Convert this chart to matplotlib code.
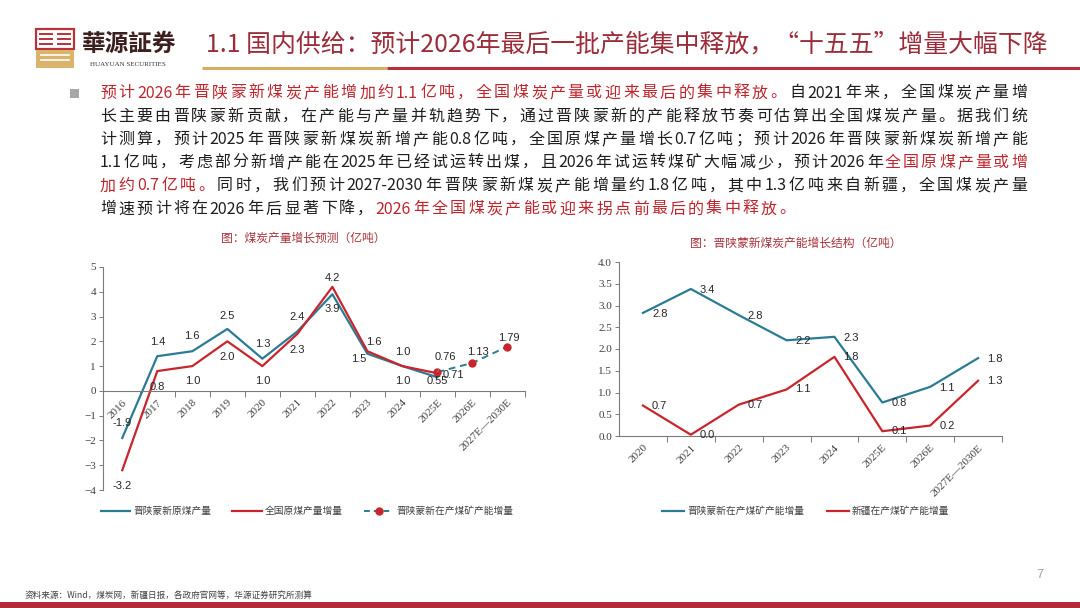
import matplotlib
matplotlib.use("Agg")
import matplotlib.pyplot as plt
from matplotlib.font_manager import FontProperties
from matplotlib.lines import Line2D
from matplotlib.patches import Rectangle

plt.rcParams['font.family'] = ['Noto Sans CJK SC', 'DejaVu Sans']

# ---------------- data ----------------
years_a = ['2016', '2017', '2018', '2019', '2020', '2021', '2022', '2023',
           '2024', '2025E', '2026E', '2027E—2030E']
jsmx_output = [-1.9, 1.4, 1.6, 2.5, 1.3, 2.4, 3.9, 1.5, 1.0, 0.55]      # 晋陕蒙新原煤产量
national_output = [-3.2, 0.8, 1.0, 2.0, 1.0, 2.3, 4.2, 1.6, 1.0, 0.71]  # 全国原煤产量增量
jsmx_cap_a = [0.76, 1.13, 1.79]                                          # 2025E, 2026E, 2027E-2030E

years_b = ['2020', '2021', '2022', '2023', '2024', '2025E', '2026E', '2027E—2030E']
jsmx_cap_b = [2.83, 3.38, 2.78, 2.2, 2.28, 0.77, 1.13, 1.79]   # 晋陕蒙新在产煤矿产能增量
xj_cap_b = [0.7, 0.03, 0.72, 1.07, 1.82, 0.11, 0.24, 1.27]     # 新疆在产煤矿产能增量

# label offsets (x, y in data units) for the left chart
off_teal = [(0, 0.61), (0, 0.59), (0, 0.6), (0, 0.54), (0, 0.6), (0, 0.6),
            (0, -0.6), (-0.26, -0.21), (0, -0.6), (0, -0.17)]
off_red = [(0, -0.63), (0, -0.63), (0, -0.6), (0, -0.63), (0, -0.62), (0, -0.65),
           (0, 0.34), (0.17, 0.38), (0, 0.58), (0.46, -0.06)]
off_dash = [(0.23, 0.62), (0.17, 0.45), (0.03, 0.36)]

TEAL = '#2B7C93'
RED = '#C8252D'
TXT_RED = '#BE262E'
INK = '#1E1E1E'
TITLE_RED = '#9B2C3A'

title = '1.1 国内供给：预计2026年最后一批产能集中释放，“十五五”增量大幅下降'
para_lines = [
    [('预计2026年晋陕蒙新煤炭产能增加约1.1亿吨，全国煤炭产量或迎来最后的集中释放。', TXT_RED),
     ('自2021年来，全国煤炭产量增', INK)],
    [('长主要由晋陕蒙新贡献，在产能与产量并轨趋势下，通过晋陕蒙新的产能释放节奏可估算出全国煤炭产量。据我们统', INK)],
    [('计测算，预计2025年晋陕蒙新煤炭新增产能0.8亿吨，全国原煤产量增长0.7亿吨；预计2026年晋陕蒙新煤炭新增产能', INK)],
    [('1.1亿吨，考虑部分新增产能在2025年已经试运转出煤，且2026年试运转煤矿大幅减少，预计2026年', INK),
     ('全国原煤产量或增', TXT_RED)],
    [('加约0.7亿吨。', TXT_RED),
     ('同时，我们预计2027-2030年晋陕蒙新煤炭产能增量约1.8亿吨，其中1.3亿吨来自新疆，全国煤炭产量', INK)],
    [('增速预计将在2026年后显著下降，', INK),
     ('2026年全国煤炭产能或迎来拐点前最后的集中释放。', TXT_RED)],
]
footer = '资料来源：Wind，煤炭网，新疆日报，各政府官网等，华源证券研究所测算'

fig = plt.figure(figsize=(10.8, 6.08), dpi=100)
renderer = fig.canvas.get_renderer()


def text_w(s, fp):
    w, h, d = renderer.get_text_width_height_descent(s, fp, ismath=False)
    return w


# background layer in pixel coordinates
bg = fig.add_axes([0, 0, 1, 1])
bg.set_xlim(0, 1080)
bg.set_ylim(608, 0)
bg.axis('off')

# logo
bg.add_patch(Rectangle((36, 29), 38, 20, fill=False, ec='#B8323A', lw=1.6))
for yy in (34, 39, 44):
    bg.plot([40, 52], [yy, yy], color='#B8323A', lw=1.4)
    bg.plot([58, 70], [yy, yy], color='#B8323A', lw=1.4)
bg.add_patch(Rectangle((36, 50), 38, 18, color='#D9B46A', lw=0))
for yy in (55, 60):
    bg.plot([41, 69], [yy, yy], color='white', lw=1.2)
bg.text(82, 44, '華源証券', family=['Noto Sans CJK TC', 'DejaVu Sans'], fontsize=17,
        fontweight='bold', color='#3D1F1F', va='center', ha='left')
bg.text(90, 64, 'HUAYUAN SECURITIES', family='Liberation Serif', fontsize=5,
        color='#333333', va='center', ha='left')

# header title, scaled to span the header width
fp10 = FontProperties(family='Noto Sans CJK SC', size=10)
tsize = 10 * 841 / text_w(title, fp10)
bg.text(206, 45, title, fontsize=tsize, color=TITLE_RED, va='center', ha='left')
bg.plot([202, 387], [67.7, 67.7], color='#D4AE62', lw=2.2, solid_capstyle='butt')
bg.plot([387, 1080], [67.7, 67.7], color='#B5303F', lw=2.2, solid_capstyle='butt')

# bullet + justified paragraph
bg.add_patch(Rectangle((70, 88.5), 9, 9, color='#A6A6A6', lw=0))
fp_par = FontProperties(family='Noto Sans CJK SC', size=11.5)
em = 11.5 * 100 / 72
bar_w = text_w('||', fp_par)


def advance(s):
    if len(s) == 1 and ord(s) > 0x2000:
        return em
    return text_w('|' + s + '|', fp_par) - bar_w


def groups(segs):
    # runs of ascii characters stay together, CJK characters stand alone
    out = []
    for s, col in segs:
        for c in s:
            if ord(c) < 128 and out and ord(out[-1][0][-1]) < 128 and out[-1][1] == col:
                out[-1] = (out[-1][0] + c, col)
            else:
                out.append((c, col))
    return out


x_left, x_right = 100, 1027
extras = []
for k, segs in enumerate(para_lines):
    parts = groups(segs)
    advs = [advance(p) for p, _ in parts]
    if k < len(para_lines) - 1:
        extra = (x_right - x_left - sum(advs)) / (len(parts) - 1)
        extras.append(extra)
    else:
        extra = sum(extras) / len(extras)
    x = x_left
    y = 93 + k * 23.2
    for (p, col), a in zip(parts, advs):
        bg.text(x, y, p, fontproperties=fp_par, color=col, ha='left', va='center')
        x += a + extra

# chart titles
bg.text(303, 238, '图：煤炭产量增长预测（亿吨）', fontsize=8.5, color='#A8323A',
        ha='center', va='center')
bg.text(796, 243, '图：晋陕蒙新煤炭产能增长结构（亿吨）', fontsize=8.5, color='#A8323A',
        ha='center', va='center')

# footer
bg.text(25, 595, footer, fontsize=6.2, color='#404040', va='center', ha='left')
bg.text(1036, 575, '7', family='Liberation Sans', fontsize=9, color='#A0A0A0',
        va='center', ha='left')
bg.add_patch(Rectangle((0, 602), 1080, 6, color='#B12C38', lw=0))


def fmt(v):
    return '{:.1f}'.format(v) if abs(round(v, 1) - v) < 1e-9 else '{:.2f}'.format(v)


def style_axes(ax, labels):
    ax.patch.set_alpha(0)
    ax.spines[['top', 'right']].set_visible(False)
    for s in ('left', 'bottom'):
        ax.spines[s].set_color('#7A7A7A')
        ax.spines[s].set_linewidth(0.8)
    n = len(labels)
    ax.set_xticks(range(n))
    ax.set_xticklabels(labels, rotation=45, ha='right', rotation_mode='anchor',
                       family='Liberation Serif', fontsize=8, color='#404040')
    ax.set_xticks([i + 0.5 for i in range(n)], minor=True)
    ax.tick_params(axis='x', which='major', length=0, pad=5)
    ax.tick_params(axis='x', which='minor', length=4, width=0.7, color='#7A7A7A',
                   direction='out')
    ax.tick_params(axis='y', length=3, width=0.7, color='#7A7A7A', direction='out', pad=2)
    for t in ax.get_yticklabels():
        t.set_family('Liberation Serif')
        t.set_fontsize(8)
        t.set_color('#404040')


lbl_kw = dict(family='Liberation Sans', fontsize=8, color='#262626',
              ha='center', va='center')
fp_leg = FontProperties(family='Noto Sans CJK SC', size=7)

# ---------------- left chart ----------------
ax1 = fig.add_axes([103 / 1080, 1 - 490 / 608, 422 / 1080, 223 / 608])
xa = list(range(len(years_a)))
ax1.plot(xa[:len(jsmx_output)], jsmx_output, color=TEAL, lw=1.6)
ax1.plot(xa[:len(national_output)], national_output, color=RED, lw=1.6)
xd = xa[len(jsmx_output) - 1:]
ax1.plot(xd, jsmx_cap_a, color=TEAL, lw=1.4, ls=(0, (3.5, 2.5)),
         marker='o', ms=5, mfc=RED, mec=RED)
ax1.set_xlim(-0.55, 11.5)
ax1.set_ylim(-4, 5)
ax1.set_yticks(range(-4, 6))
ax1.spines['bottom'].set_position(('data', 0))
style_axes(ax1, years_a)

for i, v in enumerate(jsmx_output):
    dx, dy = off_teal[i]
    ax1.text(i + dx, v + dy, fmt(v), **lbl_kw)
for i, v in enumerate(national_output):
    dx, dy = off_red[i]
    ax1.text(i + dx, v + dy, fmt(v), **lbl_kw)
for j, v in enumerate(jsmx_cap_a):
    dx, dy = off_dash[j]
    if j == 0:
        ax1.annotate(fmt(v), xy=(xd[j], v), xytext=(xd[j] + dx, v + dy),
                     arrowprops=dict(arrowstyle='-', color='#8A8A8A', lw=0.6,
                                     shrinkA=4, shrinkB=3), **lbl_kw)
    else:
        ax1.text(xd[j] + dx, v + dy, fmt(v), **lbl_kw)

h1 = [Line2D([], [], color=TEAL, lw=1.6),
      Line2D([], [], color=RED, lw=1.6),
      Line2D([], [], color=TEAL, lw=1.4, ls=(0, (3, 2)), marker='o', ms=5,
             mfc=RED, mec=RED)]
ax1.legend(h1, ['晋陕蒙新原煤产量', '全国原煤产量增量', '晋陕蒙新在产煤矿产能增量'],
           loc='center left', bbox_to_anchor=(101 / 1080, 1 - 511 / 608),
           bbox_transform=fig.transFigure, ncol=3, frameon=False, prop=fp_leg,
           labelcolor='#404040', handlelength=3.0, handletextpad=0.3,
           columnspacing=2.2, borderpad=0, borderaxespad=0)

# ---------------- right chart ----------------
ax2 = fig.add_axes([619 / 1080, 1 - 436 / 608, 383 / 1080, 174 / 608])
xb = list(range(len(years_b)))
ax2.plot(xb, jsmx_cap_b, color=TEAL, lw=1.6)
ax2.plot(xb, xj_cap_b, color=RED, lw=1.6)
ax2.set_xlim(-0.5, 7.5)
ax2.set_ylim(0, 4)
yt = [0, 0.5, 1.0, 1.5, 2.0, 2.5, 3.0, 3.5, 4.0]
ax2.set_yticks(yt)
ax2.set_yticklabels(['{:.1f}'.format(v) for v in yt])
style_axes(ax2, years_b)

for i, v in enumerate(jsmx_cap_b):
    ax2.text(i + 0.35, v - 0.02, '{:.1f}'.format(v), **lbl_kw)
for i, v in enumerate(xj_cap_b):
    ax2.text(i + 0.35, v, '{:.1f}'.format(v), **lbl_kw)

h2 = [Line2D([], [], color=TEAL, lw=1.6), Line2D([], [], color=RED, lw=1.6)]
ax2.legend(h2, ['晋陕蒙新在产煤矿产能增量', '新疆在产煤矿产能增量'],
           loc='center left', bbox_to_anchor=(662 / 1080, 1 - 511 / 608),
           bbox_transform=fig.transFigure, ncol=2, frameon=False, prop=fp_leg,
           labelcolor='#404040', handlelength=2.3, handletextpad=0.3,
           columnspacing=2.3, borderpad=0, borderaxespad=0)

fig.savefig('out.png', dpi=100)
